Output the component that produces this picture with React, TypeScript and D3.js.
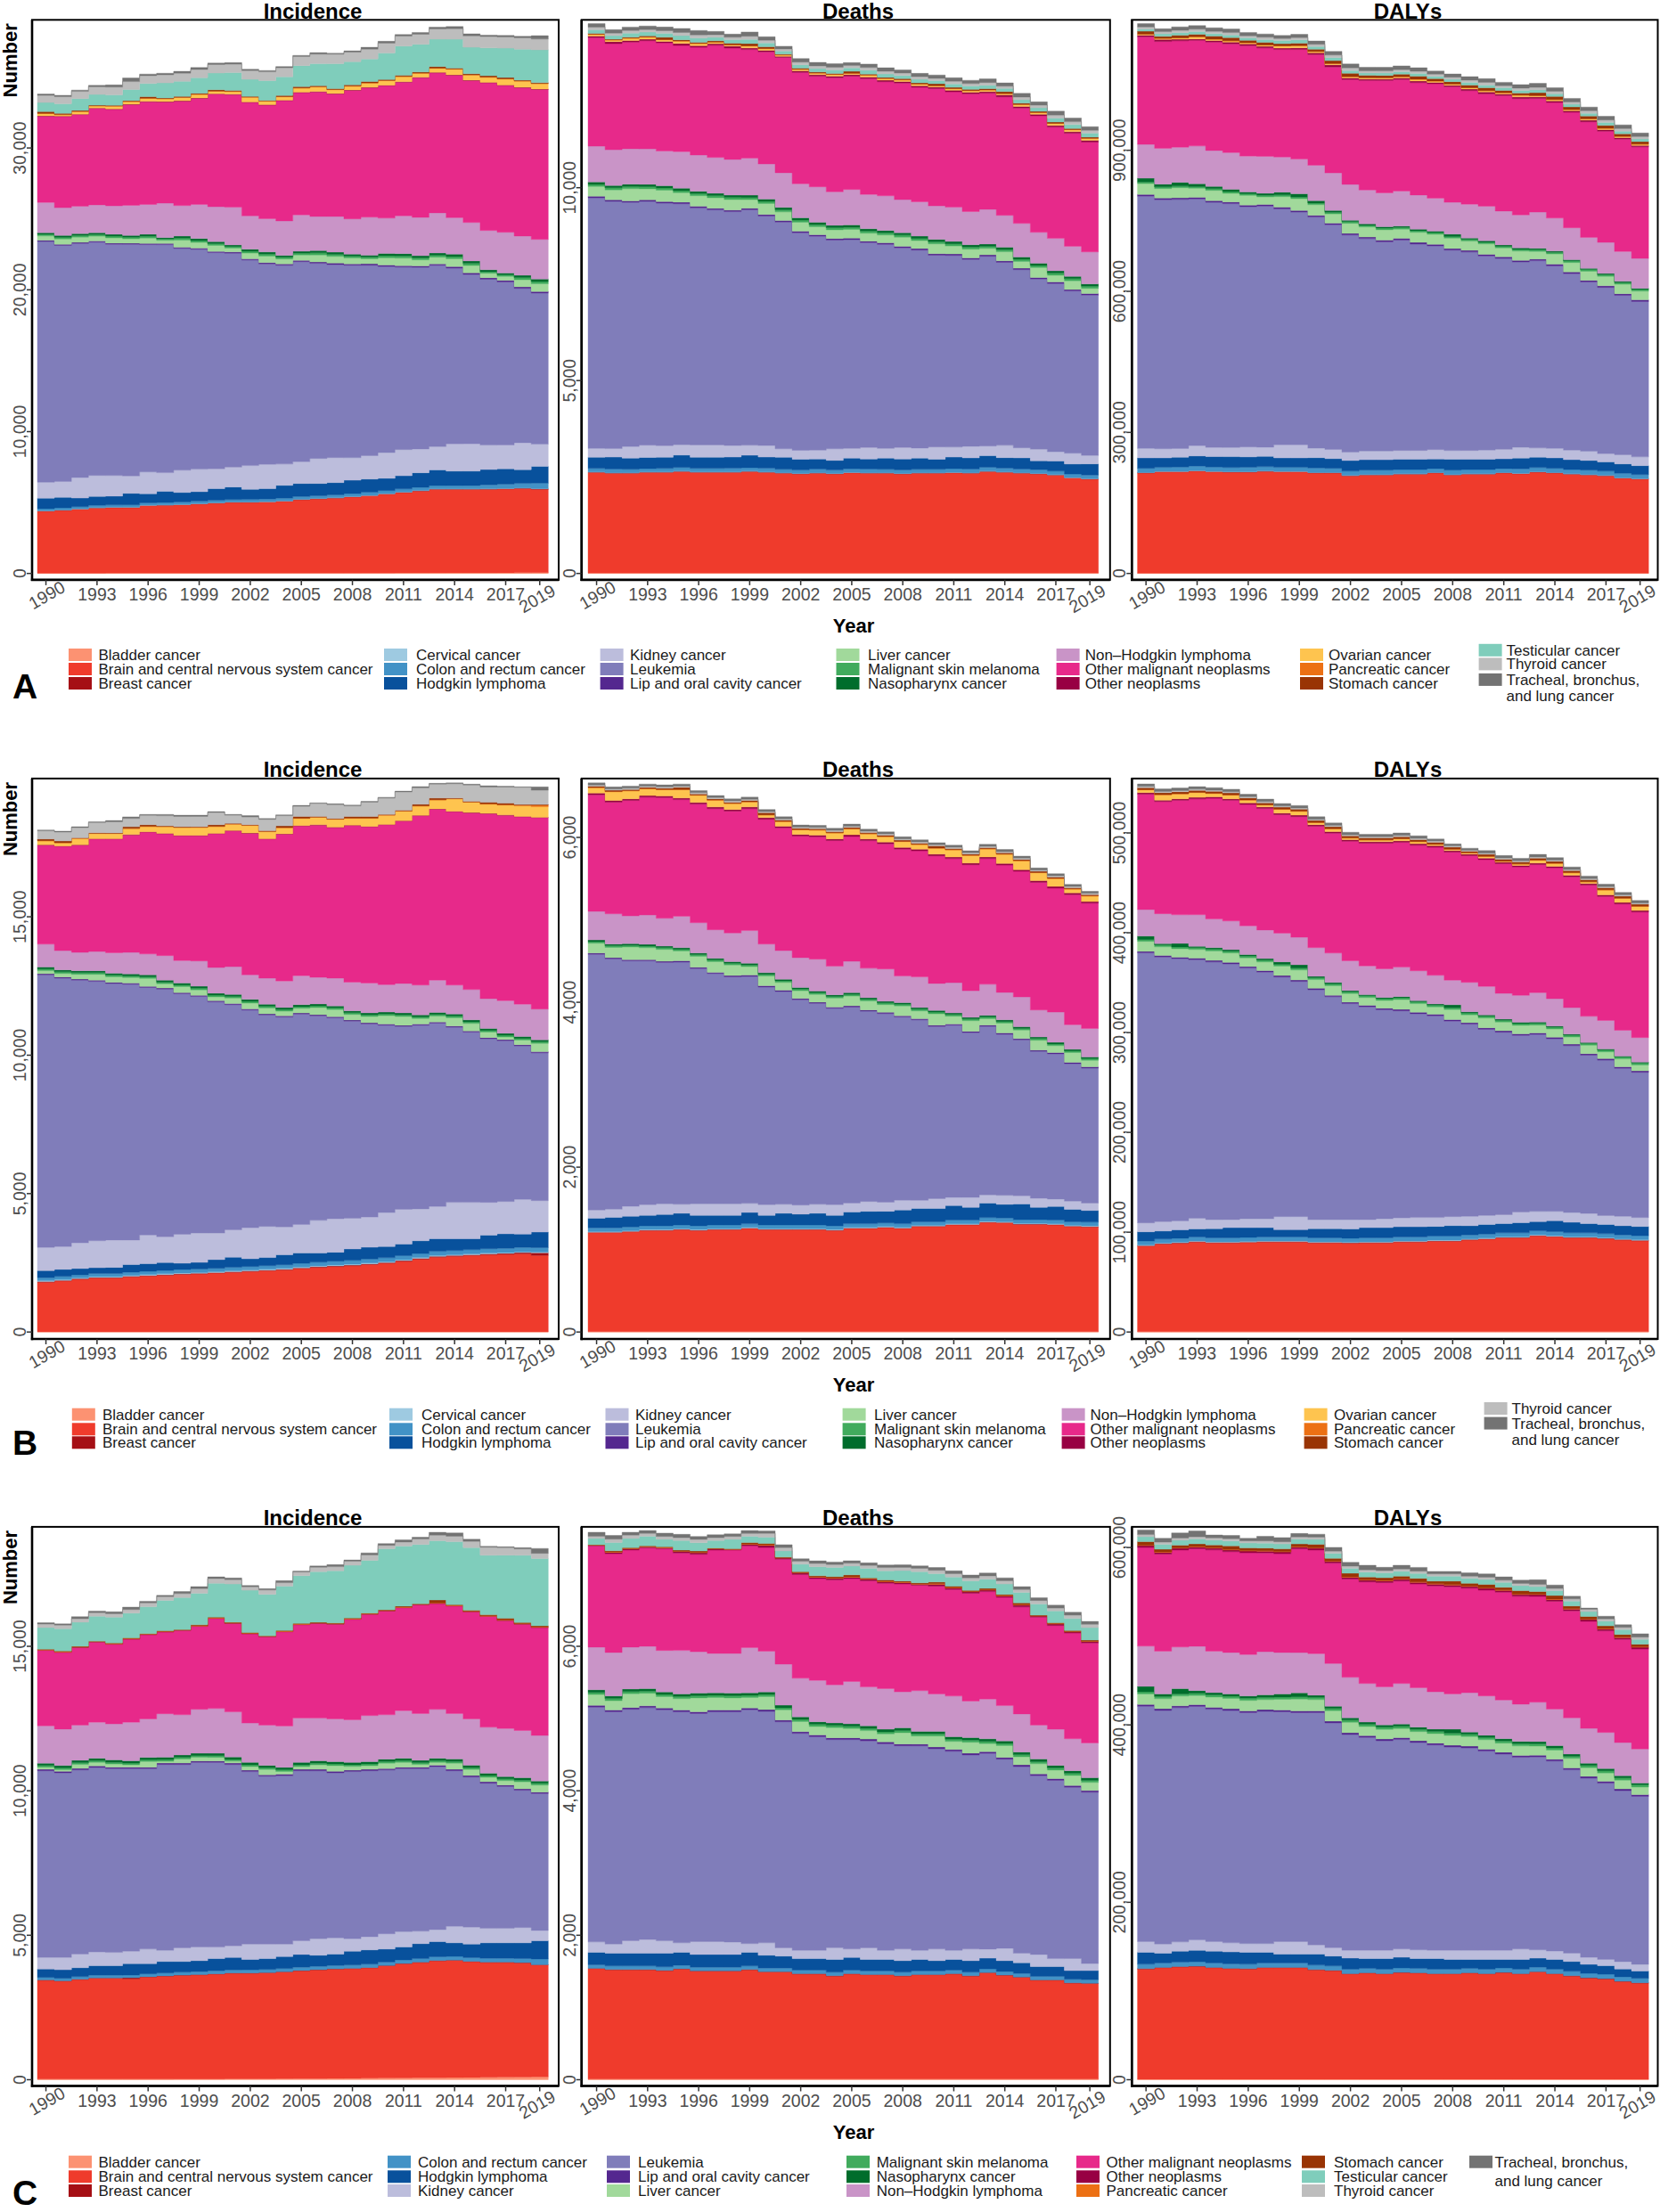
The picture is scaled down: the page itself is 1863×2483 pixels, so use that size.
import React from 'react';
import * as d3 from 'd3';

// ---------------- categories, colours ----------------
const YEARS = d3.range(1990, 2020);
const X_TICKS = [1990, 1993, 1996, 1999, 2002, 2005, 2008, 2011, 2014, 2017, 2019];

const CATEGORIES = [
  'Bladder cancer', 'Brain and central nervous system cancer', 'Breast cancer', 'Cervical cancer',
  'Colon and rectum cancer', 'Hodgkin lymphoma', 'Kidney cancer', 'Leukemia', 'Lip and oral cavity cancer',
  'Liver cancer', 'Malignant skin melanoma', 'Nasopharynx cancer', 'Non\u2013Hodgkin lymphoma',
  'Other malignant neoplasms', 'Other neoplasms', 'Ovarian cancer', 'Pancreatic cancer', 'Stomach cancer',
  'Testicular cancer', 'Thyroid cancer', 'Tracheal, bronchus, and lung cancer',
];
const COLORS = [
  '#FC9272', '#EF3B2C', '#A50F15', '#9ECAE1', '#4292C6', '#08519C', '#BCBDDC', '#807DBA', '#54278F',
  '#A1D99B', '#41AB5D', '#006D2C', '#C994C7', '#E7298A', '#980043', '#FEC44F', '#EC7014', '#993404',
  '#7FCDBB', '#BDBDBD', '#737373',
];

// ---------------- data (rows in CATEGORIES order, 1990..2019) ----------------
// A: both sexes, Incidence
const incBoth: (number[] | null)[] = [
  [20,20,20,20,22,22,22,24,24,24,25,26,26,27,28,28,30,30,32,34,36,38,40,42,44,46,48,50,52,55],
  [4370,4430,4510,4595,4620,4620,4760,4785,4815,4870,4925,4980,4980,5005,5060,5170,5225,5280,5360,5445,5555,5665,5775,5885,5885,5880,5880,5905,5930,5870],
  [15,15,15,15,15,15,15,15,15,15,20,20,20,20,20,20,20,20,20,20,25,25,25,25,25,25,30,30,35,45],
  [15,15,15,15,15,20,15,15,15,15,15,15,15,15,15,15,15,15,15,15,15,15,15,15,15,15,15,15,15,15],
  [150,150,155,155,160,160,165,165,170,170,175,175,180,180,185,190,195,200,205,210,215,220,225,230,235,240,280,300,320,380],
  [740,740,600,630,620,810,640,780,670,670,820,880,710,740,900,920,860,860,940,930,860,920,1020,1100,1010,1010,1070,1080,970,1180],
  [1120,1120,1450,1480,1450,1230,1540,1320,1570,1590,1400,1400,1680,1710,1510,1540,1760,1760,1590,1650,1820,1850,1680,1650,1930,1930,1730,1680,1900,1570],
  [16980,16640,16500,16450,16310,16330,16030,16080,15640,15500,15240,15080,14490,14130,14010,14100,13760,13620,13570,13430,13120,12870,12810,12780,12390,11940,11690,11500,10880,10660],
  [80,80,80,80,80,80,80,80,90,90,90,90,90,90,90,90,100,100,100,100,100,100,100,100,110,110,110,110,110,110],
  [310,370,370,340,370,310,380,220,490,400,420,280,400,460,360,380,490,470,410,350,510,530,420,470,540,520,310,280,500,540],
  [110,120,120,120,120,110,130,100,140,130,130,110,130,140,120,130,150,140,130,120,150,150,140,140,160,150,120,110,150,160],
  [120,130,130,130,130,120,140,100,150,140,140,110,140,150,130,130,160,160,140,130,160,170,150,160,170,170,130,120,160,170],
  [2130,1960,1930,1960,2010,2130,2100,2430,2150,2410,2460,2660,2350,2350,2430,2570,2410,2520,2490,2690,2490,2660,2710,2830,2570,2710,2770,2880,2770,2800],
  [6070,6430,6460,6800,6800,7100,7240,7130,7360,7470,7940,7940,8000,8000,8480,8620,8780,8640,9060,9120,9340,9430,9850,9870,10040,10010,10410,10350,10460,10570],
  [30,30,30,30,30,30,30,30,30,30,30,30,30,30,30,30,30,30,30,30,30,30,30,30,30,30,30,30,30,30],
  [160,90,180,140,190,180,210,190,230,250,170,180,330,250,240,290,320,260,260,300,320,360,270,290,400,360,360,420,430,380],
  [15,15,15,15,15,15,15,15,15,15,15,15,15,15,15,15,15,15,15,15,15,15,15,15,15,15,15,15,15,15],
  [130,90,60,40,50,60,110,50,60,70,90,60,50,40,80,90,60,60,90,100,60,70,80,110,60,70,100,90,60,50],
  [640,670,840,760,730,780,920,1060,1060,1090,1180,1260,1200,1400,1320,1480,1570,1760,1620,1590,1870,2070,1960,1930,2040,1870,1960,2070,2180,2320],
  [500,500,510,540,560,560,560,570,580,590,600,600,620,620,630,640,660,670,680,690,700,700,700,720,740,800,800,790,800,760],
  [100,100,90,100,150,250,110,110,130,130,100,110,100,90,90,80,110,70,90,130,130,110,130,130,150,150,100,110,110,240],
];

// A: both sexes, Deaths
const deathsBoth: (number[] | null)[] = [
  [12,12,12,12,12,12,12,12,12,12,12,12,12,12,12,12,12,12,12,12,12,12,12,12,12,12,12,12,12,12],
  [2607,2586,2586,2607,2607,2628,2607,2607,2607,2628,2607,2586,2566,2586,2566,2596,2586,2586,2566,2586,2586,2596,2586,2628,2607,2586,2566,2535,2462,2431],
  [8,8,8,8,8,8,8,8,8,8,8,8,8,8,8,8,8,8,8,8,8,8,8,8,8,8,8,8,8,8],
  [5,5,5,5,5,5,5,5,5,5,5,5,5,5,5,5,5,5,5,5,5,5,5,5,5,5,5,5,5,5],
  [90,95,90,85,90,95,90,90,95,90,95,90,90,95,90,90,95,90,95,90,90,95,95,100,100,95,100,95,90,95],
  [290,310,290,290,290,320,290,290,290,320,290,310,280,260,250,280,260,290,280,290,260,300,290,300,270,290,230,260,260,290],
  [230,220,300,320,300,270,320,320,300,260,300,220,230,230,300,250,300,250,300,260,320,260,300,250,320,260,300,240,280,220],
  [6495,6413,6330,6320,6289,6248,6145,6093,6062,6104,5949,5877,5640,5547,5413,5413,5310,5289,5176,5134,4969,4969,4846,4918,4743,4619,4413,4361,4206,4155],
  [40,40,40,40,40,40,40,40,40,40,40,40,40,40,40,40,40,40,40,40,40,40,40,40,40,40,40,40,40,40],
  [255,255,315,285,295,245,275,275,275,225,285,225,235,205,225,225,205,205,235,205,255,205,225,165,235,175,255,175,225,135],
  [55,55,55,55,55,55,55,55,55,55,55,55,55,55,55,55,55,55,55,55,55,55,55,55,55,55,55,55,55,55],
  [60,60,60,60,60,60,60,60,60,60,60,60,60,60,60,60,60,60,60,60,60,60,60,60,60,60,60,60,60,60],
  [930,925,920,920,900,950,940,930,925,960,910,900,880,920,870,920,890,900,860,890,870,890,860,900,830,870,800,840,780,830],
  [2815,2753,2763,2804,2804,2753,2794,2907,2887,2815,2907,2990,2887,2866,2959,2938,3000,2959,3021,2969,3041,2990,3052,3010,3072,2990,3021,2887,2928,2846],
  [40,50,40,40,40,50,40,40,50,40,40,30,40,40,40,40,40,40,40,40,40,40,40,40,50,40,40,40,40,45],
  [40,40,60,50,40,60,55,40,30,50,40,30,40,40,40,30,50,40,40,40,30,40,40,40,30,50,40,50,50,50],
  [5,5,5,5,5,5,5,5,5,5,5,5,5,5,5,5,5,5,5,5,5,5,5,5,5,5,5,5,5,5],
  [25,20,25,30,60,30,30,30,40,60,45,20,25,25,25,50,25,25,30,30,50,30,30,30,50,30,30,35,30,30],
  [90,90,100,100,100,110,110,90,90,110,100,80,90,90,90,90,100,90,80,90,80,90,90,90,80,90,90,100,100,100],
  [70,65,70,65,70,80,80,70,65,80,70,55,70,70,70,60,70,70,65,70,60,70,60,70,60,70,70,80,75,75],
  [90,90,90,90,95,105,115,85,80,110,90,70,90,90,90,75,90,90,80,85,85,90,85,95,85,95,85,100,95,95],
];

// A: both sexes, DALYs
const dalysBoth: (number[] | null)[] = [
  [600,600,600,600,600,600,600,600,600,600,600,600,600,600,600,600,600,600,600,600,600,600,600,600,600,600,600,600,600,600],
  [213000,215500,215500,217200,215500,214700,214700,216400,215500,215500,213000,213000,206900,208600,208600,210300,210300,213000,208600,210300,210300,213000,211300,214700,213000,210300,208600,206900,201800,200100],
  [700,700,700,700,700,700,700,700,700,700,700,700,700,700,700,700,700,700,700,700,700,700,700,700,700,700,700,700,700,700],
  [400,400,400,400,400,400,400,400,400,400,400,400,400,400,400,400,400,400,400,400,400,400,400,400,400,400,400,400,400,400],
  [9000,8500,9000,9500,9000,9000,9500,9000,8500,8500,9500,9000,9000,9500,9500,9000,9000,8500,9500,9000,9000,8500,9500,9000,9000,9000,9500,9000,9500,8500],
  [22000,20000,21000,21500,22500,23000,22000,22000,20000,20000,22000,20500,22500,22000,22000,22000,22000,20000,23000,22000,22000,20500,23000,22000,22000,21000,20500,19500,20000,19000],
  [20300,19500,18600,22000,19500,19500,21200,19500,28000,28000,20300,19500,17800,18600,18600,18600,18600,20300,18600,18600,19500,20300,22900,19500,20300,20300,19500,17800,19500,18600],
  [536500,529700,529700,524600,521200,518700,511000,512700,501700,494900,491600,478000,461900,451700,444900,447500,439000,433100,426300,422100,412700,406000,394100,398300,388200,375400,360200,353400,339000,330500],
  [3500,3500,3500,3500,3500,3500,3500,3500,3500,3500,3500,3500,3500,3500,3500,3500,3500,3500,3500,3500,3500,3500,3500,3500,3500,3500,3500,3500,3500,3500],
  [23100,20100,21400,19200,21900,18500,20400,16100,22600,25000,22700,19500,21400,21400,22200,19700,21400,21400,21900,19700,22200,18800,19700,16300,21900,20200,19300,20200,20200,18500],
  [3500,3500,3500,3500,3500,3500,3500,3500,3500,3500,3500,3500,3500,3500,3500,3500,3500,3500,3500,3500,3500,3500,3500,3500,3500,3500,3500,3500,3500,3500],
  [8000,6000,8000,6000,5000,5000,4000,4000,6000,7000,5000,4000,3000,3000,3000,3000,3000,3000,5000,3000,3000,3000,3000,3000,2500,2500,2500,2500,2500,2500],
  [72000,76300,74600,80500,76300,78000,76300,78800,74600,73700,75400,79700,76300,72000,72000,74600,72900,70300,67800,72000,73700,72000,70300,77100,70300,67800,66100,66100,63600,63600],
  [228800,227100,226300,224600,230500,231400,234800,230500,228800,233100,235600,225400,222900,233100,239000,237300,239000,243200,245800,241500,239000,245800,247500,241500,245800,245800,245800,236500,239000,237300],
  [3500,4500,3500,3000,3500,3500,3500,3500,3000,3500,3500,4500,3500,3000,3000,3000,3500,3000,3000,3500,4000,3000,3500,3500,3500,3000,3500,3500,3000,3000],
  [2000,2000,2500,4500,2500,2500,2500,2500,4500,4500,2500,2500,2500,2500,2500,2500,3500,2500,2500,2500,2500,2500,3500,2500,2500,2500,2500,2500,2500,2500],
  [300,300,300,300,300,300,300,300,300,300,300,300,300,300,300,300,300,300,300,300,300,300,300,300,300,300,300,300,300,300],
  [6000,4000,5500,5000,6500,7000,5000,5500,4500,5000,5000,6000,7000,5000,5000,5500,6500,5000,5000,5500,6000,5000,4500,6000,6500,5500,6000,6000,5500,5500],
  [4500,5500,5500,6000,5000,5500,5000,6000,6500,7000,5500,6500,6000,5000,5000,5000,5500,5000,5000,5500,6000,5500,5500,6000,5500,5500,5500,6000,5500,5500],
  [4500,4500,5000,5000,5000,5000,4500,5000,4500,5000,5000,5500,5500,4500,4500,4500,5000,4500,4500,5000,5500,4500,5000,5500,5500,5000,5500,5500,5500,5000],
  [7200,6300,7400,7600,7700,7600,7200,6900,6400,6900,6900,7800,8300,7700,7700,8000,7400,6800,6800,7400,7900,7200,7400,8400,7600,7600,7900,7900,7900,7600],
];

// B: female, Incidence
const incFemale: (number[] | null)[] = [
  [10,10,10,10,10,10,10,10,10,10,10,10,10,10,10,10,10,10,10,10,10,10,10,10,10,10,10,10,10,10],
  [1793,1838,1897,1941,1941,1985,2015,2044,2074,2089,2118,2148,2177,2207,2237,2281,2325,2355,2384,2429,2473,2547,2621,2695,2724,2754,2783,2798,2818,2759],
  [20,20,20,20,20,20,20,20,20,20,20,20,20,20,20,25,25,25,25,25,25,25,30,30,30,30,30,30,40,90],
  [30,30,30,30,30,30,30,30,30,30,30,30,30,30,30,30,30,30,30,30,30,30,30,30,30,30,30,30,30,30],
  [110,110,110,115,115,120,120,120,125,125,125,130,130,130,135,135,135,140,140,140,145,145,145,150,150,150,155,155,160,160],
  [254,254,224,205,219,273,273,288,224,239,313,367,278,293,362,372,327,322,411,426,406,421,460,455,426,396,494,524,479,562],
  [842,828,931,975,990,887,1035,931,1049,1064,961,990,1123,1123,1005,1035,1182,1212,1109,1094,1227,1256,1153,1168,1315,1315,1182,1168,1256,1138],
  [9843,9696,9489,9371,9267,9238,8942,8942,8691,8543,8351,8129,7863,7641,7582,7597,7390,7257,7124,6976,6769,6607,6636,6621,6326,6148,5912,5809,5543,5336],
  [40,40,40,40,40,40,40,40,40,40,40,40,40,40,40,40,40,40,40,40,40,40,40,40,40,40,40,40,40,40],
  [111,126,170,214,200,200,288,155,214,200,140,200,214,214,170,170,259,259,200,229,303,318,200,214,303,273,200,96,170,303],
  [60,60,60,60,60,60,60,60,60,60,60,60,60,60,60,60,60,60,60,60,60,60,60,60,60,60,60,60,60,60],
  [70,70,70,70,70,70,70,70,70,70,70,70,70,70,70,70,70,70,70,70,70,70,70,70,70,70,70,70,70,70],
  [828,695,665,695,739,783,754,887,813,916,931,1005,887,946,961,1049,961,1005,1035,1079,990,1064,1079,1168,1049,1094,1079,1182,1168,1109],
  [3577,3769,3872,4065,4109,4242,4404,4404,4508,4523,4833,4907,5114,5025,5306,5409,5498,5439,5661,5646,5779,5868,6119,6178,6267,6385,6681,6695,6769,6917],
  [10,10,10,10,10,10,10,10,10,10,10,10,10,10,10,10,10,10,10,10,10,10,10,10,10,10,10,10,10,10],
  [142,112,226,182,182,216,186,241,285,285,245,226,270,256,216,260,270,285,245,290,330,344,334,319,448,374,329,358,383,383],
  [10,10,10,10,10,10,10,10,10,10,10,10,10,10,10,10,10,10,10,10,10,10,10,10,10,10,15,15,30,60],
  [60,60,20,20,20,60,60,20,20,20,60,20,20,20,60,60,20,20,60,60,20,20,60,60,20,20,60,60,20,20],
  null,
  [296,325,370,370,399,296,340,370,370,370,443,296,281,414,370,370,473,503,384,517,591,665,591,503,517,591,547,576,621,517],
  [30,30,30,30,45,60,30,45,45,45,30,30,45,30,30,30,20,30,30,30,30,30,45,30,30,30,45,30,20,118],
];

// B: female, Deaths
const deathsFemale: (number[] | null)[] = [
  [5,5,5,5,5,5,5,5,5,5,5,5,5,5,5,5,5,5,5,5,5,5,5,5,5,5,5,5,5,5],
  [1201,1201,1211,1226,1226,1236,1226,1236,1236,1251,1236,1236,1236,1236,1226,1251,1251,1261,1251,1275,1275,1295,1295,1325,1320,1300,1300,1295,1275,1270],
  [5,5,5,5,5,5,5,5,5,5,5,5,5,5,5,5,5,5,5,5,5,5,5,5,5,5,5,5,5,5],
  [8,8,8,8,8,8,8,8,8,8,8,8,8,8,8,8,8,8,8,8,8,8,8,8,8,8,8,8,8,8],
  [45,45,45,45,45,45,45,45,45,45,45,45,45,45,45,45,45,45,45,45,45,45,45,45,45,45,45,45,45,45],
  [116,126,131,126,136,141,126,116,116,136,116,141,131,141,126,141,150,141,165,160,160,175,155,175,165,190,150,165,150,141],
  [100,100,120,130,130,110,140,140,140,110,130,110,110,110,130,110,120,110,120,100,120,100,120,100,110,100,110,90,100,90],
  [3102,3037,2978,2958,2928,2938,2854,2794,2754,2754,2640,2581,2491,2437,2382,2377,2308,2288,2223,2189,2089,2089,2000,2045,1955,1891,1782,1762,1668,1638],
  [15,15,15,15,15,15,15,15,15,15,15,15,15,15,15,15,15,15,15,15,15,15,15,15,15,15,15,15,15,15],
  [119,124,153,144,144,119,134,129,129,104,119,94,94,94,109,119,109,94,119,94,139,94,129,79,119,104,119,84,119,79],
  [20,20,20,20,20,20,20,20,20,20,20,20,20,20,20,20,20,20,20,20,20,20,20,20,20,20,20,20,20,20],
  [20,20,20,20,20,20,20,20,20,20,20,20,20,20,20,20,20,20,20,20,20,20,20,20,20,20,20,20,20,20],
  [347,367,337,357,337,382,367,347,347,397,347,347,362,387,347,382,357,392,323,372,328,367,323,377,333,362,328,367,298,347],
  [1414,1355,1400,1429,1464,1414,1439,1469,1479,1479,1514,1489,1474,1484,1524,1514,1548,1519,1539,1529,1548,1504,1529,1524,1544,1524,1548,1504,1578,1519],
  [20,20,20,20,20,20,20,20,20,20,20,20,20,20,20,20,20,20,20,20,20,20,20,20,20,20,20,20,20,20],
  [66,106,96,81,76,101,86,81,71,61,31,56,56,61,71,71,61,66,71,56,71,86,91,96,111,106,96,96,46,66],
  [3,3,3,3,3,3,3,3,3,3,3,3,3,3,3,3,3,3,3,3,3,3,3,3,3,3,3,3,3,3],
  [15,15,15,15,15,25,15,15,15,15,25,15,15,15,15,15,15,15,15,15,25,15,15,15,15,15,15,15,15,15],
  null,
  [15,15,15,15,15,15,15,15,15,15,15,15,15,15,15,15,15,15,15,15,15,15,15,15,15,15,15,15,15,15],
  [25,25,25,25,25,25,25,25,25,25,25,25,25,25,25,25,25,25,25,25,25,25,25,25,25,25,25,25,25,25],
];

// B: female, DALYs
const dalysFemale: (number[] | null)[] = [
  [300,300,300,300,300,300,300,300,300,300,300,300,300,300,300,300,300,300,300,300,300,300,300,300,300,300,300,300,300,300],
  [85800,87800,88600,89900,89000,89000,89400,89900,89900,89900,89000,89000,88600,89000,89000,89900,89900,90700,90700,91900,92700,94000,94000,96000,95200,94000,94000,93100,91900,91100],
  [500,500,500,500,500,500,500,500,500,500,500,500,500,500,500,500,500,500,500,500,500,500,500,500,500,500,500,500,500,500],
  [600,600,600,600,600,600,600,600,600,600,600,600,600,600,600,600,600,600,600,600,600,600,600,600,600,600,600,600,600,600],
  [4000,4000,4000,4000,4000,4000,4000,4000,4000,4000,4000,4000,4000,4000,4000,4000,4000,4000,4000,4000,4000,4000,4000,4000,4000,4000,4000,4000,4000,4000],
  [9200,8000,8400,8000,9200,10100,9700,9200,7200,7200,9200,9200,9200,10100,10100,10100,10100,9700,10500,9200,9700,9200,10100,9200,10900,10500,9200,9200,9200,9200],
  [9000,9400,9000,10700,9000,8200,9000,9000,13100,13100,9000,9000,9400,8200,9000,9000,9400,9000,9000,9400,9000,9000,10700,10200,9400,9800,10200,9000,9400,9000],
  [270500,265100,262700,259000,258200,256100,251200,247100,240100,235600,230300,223300,216400,213100,209400,207400,204100,202000,195900,192600,186500,182800,177000,177400,172900,167200,158600,155700,148300,145500],
  [1500,1500,1500,1500,1500,1500,1500,1500,1500,1500,1500,1500,1500,1500,1500,1500,1500,1500,1500,1500,1500,1500,1500,1500,1500,1500,1500,1500,1500,1500],
  [10000,8700,8400,8700,9500,9500,8700,8700,9400,10000,8700,9500,8600,7800,7800,9800,8600,7400,10100,7800,9800,8600,8600,7800,8400,7200,8400,6800,8000,5900],
  [1800,1800,1800,1800,1800,1800,1800,1800,1800,1800,1800,1800,1800,1800,1800,1800,1800,1800,1800,1800,1800,1800,1800,1800,1800,1800,1800,1800,1800,1800],
  [3500,1500,3500,1500,1500,1500,1500,1500,2500,3500,1500,1500,1200,1200,1200,1200,1200,1200,3000,1200,1200,1200,1200,1200,1000,1000,1000,1000,1000,1000],
  [26600,29900,28700,31600,28700,28700,28700,28700,28700,27500,28700,29500,29900,28700,28700,29500,29900,28700,24600,29500,28700,25800,27000,29500,27500,26600,26200,28700,25800,24600],
  [115600,112300,114700,116000,120900,120900,121700,121700,118800,120900,121700,120100,119700,122900,125800,125000,125800,128300,128300,127000,127000,129900,128700,128300,131100,131100,131500,124200,126600,125800],
  [1500,1500,1500,1500,1500,1500,1500,1500,1500,1500,1500,1500,1500,1500,1500,1500,1500,1500,1500,1500,1500,1500,1500,1500,1500,1500,1500,1500,1500,1500],
  [2800,5300,4900,4900,3300,3700,2800,2000,3700,3700,2000,2800,1600,1600,1600,2000,2000,1300,1300,1200,1600,800,1200,2800,2800,2400,1600,4900,4100,4100],
  [200,200,200,200,200,200,200,200,200,200,200,200,200,200,200,200,200,200,200,200,200,200,200,200,200,200,200,200,200,200],
  [2000,2000,2000,2000,2000,2000,2000,2000,2000,2000,2000,2000,2000,2000,2000,2000,2000,2000,2000,1500,2000,2000,2000,2000,2000,2000,2000,2000,2000,2000],
  null,
  [1200,1200,1200,1200,1200,1200,1200,1200,1200,1200,1200,1200,1200,1200,1200,1200,1200,1200,1200,1000,1200,1200,1200,1200,1200,1200,1200,1200,1200,1200],
  [2500,2500,2500,2500,2500,2500,2500,2500,2500,2500,2500,2500,2500,2500,2500,2500,2500,2000,2000,2000,2500,2500,2500,2500,2500,2500,2500,2500,2500,2500],
];

// C: male, Incidence
const incMale: (number[] | null)[] = [
  [20,20,20,20,20,20,20,20,25,25,25,30,30,30,35,40,40,45,50,55,60,65,70,70,75,80,85,90,95,100],
  [3425,3396,3454,3497,3497,3468,3540,3569,3592,3607,3635,3659,3659,3673,3697,3735,3764,3788,3797,3821,3887,3954,3992,4050,4059,4011,3977,3972,3953,3876],
  [5,5,5,5,5,40,5,5,5,5,5,5,5,5,5,5,5,5,5,5,5,5,5,5,5,5,5,5,5,5],
  null,
  [90,90,90,95,95,95,100,100,100,105,105,105,110,110,110,115,115,115,120,120,120,125,125,130,130,130,135,135,140,200],
  [293,293,307,331,331,396,354,397,369,378,421,435,359,373,416,440,382,397,478,492,449,444,516,525,468,468,535,535,544,628],
  [402,431,474,474,459,431,502,388,474,474,402,402,531,502,431,474,574,560,431,459,531,531,431,416,574,589,502,502,531,359],
  [6459,6388,6373,6388,6359,6316,6244,6431,6344,6388,6388,6273,5971,5813,5828,5885,5813,5713,5785,5742,5670,5641,5627,5641,5383,5196,5024,4909,4751,4737],
  [50,50,50,50,50,50,50,50,50,50,50,50,50,50,50,50,50,50,50,50,50,50,50,50,50,50,50,50,50,50],
  [70,60,140,126,111,83,198,60,140,126,126,68,126,183,97,97,154,198,126,126,183,169,97,97,212,212,154,154,241,241],
  [60,60,60,60,60,60,60,60,60,60,60,60,60,60,60,60,60,60,60,60,60,60,60,60,60,60,60,60,60,60],
  [80,80,80,80,80,80,80,80,80,80,80,80,80,80,80,80,80,80,80,80,80,80,80,80,80,80,80,80,80,80],
  [1292,1263,1220,1249,1249,1335,1335,1507,1392,1522,1550,1565,1364,1392,1435,1536,1478,1478,1478,1593,1536,1651,1622,1694,1579,1608,1593,1665,1636,1579],
  [2612,2655,2684,2770,2756,2871,2914,2828,2914,2871,3115,3057,3086,3057,3258,3230,3273,3273,3474,3502,3589,3560,3761,3660,3718,3703,3833,3732,3675,3732],
  [10,10,10,10,10,10,10,10,10,10,10,10,10,10,10,10,10,10,10,10,10,10,10,10,10,10,10,10,10,10],
  null,
  [15,15,15,15,15,15,15,15,15,15,15,15,15,15,15,15,15,15,15,15,15,15,15,15,15,15,15,15,15,15],
  [20,20,20,10,20,20,10,20,10,30,20,20,20,10,20,20,20,20,20,20,20,30,10,100,20,30,40,60,40,40],
  [746,775,833,861,890,861,933,1048,1105,1091,1177,1321,1464,1435,1536,1651,1751,1809,1823,1823,2110,2081,2053,2053,2182,2167,2053,2182,2325,2325],
  [120,120,120,120,120,120,130,130,140,160,160,150,120,150,120,130,150,140,140,190,120,140,190,190,190,220,280,260,220,180],
  [45,45,70,60,70,85,60,45,70,70,60,60,45,45,70,30,45,70,45,70,60,70,60,100,115,70,30,30,45,170],
];

// C: male, Deaths
const deathsMale: (number[] | null)[] = [
  [8,8,8,8,8,8,8,8,8,8,8,8,8,8,8,8,8,8,8,8,8,8,8,8,8,8,8,8,8,8],
  [1531,1514,1514,1514,1502,1525,1496,1496,1496,1514,1485,1485,1456,1456,1428,1456,1445,1445,1428,1445,1445,1456,1428,1473,1439,1410,1370,1370,1330,1324],
  [3,3,3,3,3,3,3,3,3,3,3,3,3,3,3,3,3,3,3,3,3,3,3,3,3,3,3,3,3,3],
  null,
  [50,50,50,50,50,50,50,50,50,50,50,50,50,50,50,50,50,50,50,50,50,50,50,50,50,50,50,50,50,50],
  [171,177,177,177,188,177,177,177,177,188,177,165,159,159,177,177,159,159,159,159,142,148,159,148,148,148,136,136,119,125],
  [144,126,172,189,172,132,178,178,172,121,172,115,115,115,161,115,161,126,161,126,161,126,161,126,172,132,167,109,167,98],
  [3250,3216,3204,3210,3198,3198,3158,3181,3187,3238,3204,3129,3003,2957,2882,2900,2865,2860,2814,2831,2773,2756,2687,2710,2618,2584,2475,2469,2371,2371],
  [25,25,25,25,25,25,25,25,25,25,25,25,25,25,25,25,25,25,25,25,25,25,25,25,25,25,25,25,25,25],
  [151,128,191,174,157,157,191,174,168,145,180,140,140,117,140,128,117,111,157,111,151,111,151,111,163,111,140,117,140,111],
  [30,30,30,30,30,30,30,30,30,30,30,30,30,30,30,30,30,30,30,30,30,30,30,30,30,30,30,30,30,30],
  [35,35,35,35,35,35,35,35,35,35,35,35,35,35,35,35,35,35,35,35,35,35,35,35,35,35,35,35,35,35],
  [591,603,580,586,574,603,574,545,551,626,563,568,534,574,528,586,540,563,500,563,517,563,505,551,488,528,471,500,442,482],
  [1401,1367,1344,1361,1407,1349,1349,1430,1430,1407,1436,1453,1436,1407,1453,1424,1470,1458,1493,1458,1493,1476,1493,1487,1499,1481,1493,1436,1464,1384],
  [10,20,15,15,15,20,20,15,10,20,30,15,20,20,20,20,20,20,20,15,25,20,20,20,20,25,15,20,15,20],
  null,
  [2,5,5,5,5,5,6,5,2,6,7,4,5,5,6,6,5,6,5,5,7,6,5,6,5,7,4,5,5,5],
  [5,15,14,9,9,15,20,9,5,20,20,10,15,15,20,26,15,20,15,14,25,20,15,20,15,25,10,15,14,15],
  [86,115,126,132,103,132,115,103,132,86,86,86,103,126,126,121,132,126,144,155,115,126,132,126,144,144,155,161,167,172],
  [29,46,46,40,40,40,46,40,40,40,52,46,40,46,40,40,40,46,46,46,46,46,40,46,46,40,46,40,46,46],
  [57,52,40,40,46,46,40,40,35,40,35,40,35,35,35,35,35,35,35,35,40,40,40,40,40,40,40,40,40,40],
];

// C: male, DALYs
const dalysMale: (number[] | null)[] = [
  [500,500,500,500,500,500,500,500,500,500,500,500,500,500,500,500,500,500,500,500,500,500,500,500,500,500,500,500,500,500],
  [124400,125800,126700,127200,125800,124800,124400,125800,125800,125800,123400,122500,118800,119700,118800,120200,119700,118800,118800,119700,118800,120200,118800,121100,118800,116400,114100,113100,110300,108500],
  [300,300,300,300,300,300,300,300,300,300,300,300,300,300,300,300,300,300,300,300,300,300,300,300,300,300,300,300,300,300],
  null,
  [5000,5000,5000,5000,5000,5000,5000,5000,5000,5000,5000,5000,5000,5000,5000,5000,5000,5000,5000,5000,5000,5000,5000,5000,5000,5000,5000,5000,5000,5000],
  [13400,11100,12500,12900,13400,13400,13400,12000,10100,10100,12500,11100,12500,11100,12000,12000,11100,12000,11100,10100,11100,9700,11100,10100,11100,11100,10100,9700,8700,8300],
  [12200,10300,10300,11700,10800,10300,9800,9800,14000,14000,10300,9400,8900,9400,9400,9400,9800,9400,10300,10300,10300,10300,11700,9400,9400,9400,8000,7000,8400,7500],
  [265200,263300,264200,263300,261900,261900,260500,261900,259100,258100,261900,253500,243200,239900,236200,236200,233800,231500,229100,228200,224500,221200,216100,217500,214200,206700,202000,198800,192700,189400],
  [2000,2000,2000,2000,2000,2000,2000,2000,2000,2000,2000,2000,2000,2000,2000,2000,2000,2000,2000,2000,2000,2000,2000,2000,2000,2000,2000,2000,2000,2000],
  [11900,11200,11000,10300,11700,11700,11700,11200,12100,13400,12600,11700,11700,10300,10800,10300,10300,10800,11100,10800,10800,10300,10800,10300,10300,10800,9800,9400,9800,8500],
  [2500,2500,2500,2500,2500,2500,2500,2500,2500,2500,2500,2500,2500,2500,2500,2500,2500,2500,2500,2500,2500,2500,2500,2500,2500,2500,2500,2500,2500,2500],
  [6000,3000,6000,3000,2500,2500,2500,3000,3500,4500,2500,2500,2500,2500,2500,2500,2500,2500,4500,2500,2500,2500,2500,2500,2500,2500,2500,2500,2500,2000],
  [45400,48200,46800,50000,46800,46800,46800,48600,46800,45400,46800,48200,45800,43500,43000,45800,44400,42100,39800,44400,44400,43500,42100,44400,41200,40700,39300,40700,37400,38300],
  [111300,109400,109400,109900,114100,113600,114600,111300,111300,116900,116900,113200,110800,114600,117400,115500,116900,119300,120700,117800,119300,121600,121600,119300,121600,120700,120700,114600,116400,112700],
  [2000,2000,2000,2000,2000,2000,2000,2000,2000,2000,2000,2000,2000,2000,2000,2000,2000,2000,2000,2000,2000,2000,2000,2000,2000,2000,2000,2000,2000,2000],
  null,
  [500,500,500,500,500,500,500,500,500,500,500,500,500,500,500,500,500,500,500,500,500,500,500,500,500,500,500,500,500,500],
  [4000,3000,3000,3000,3000,4000,3000,3000,3000,3000,4000,3000,4000,3000,3000,3000,4000,3000,4000,3000,4000,3000,4000,3000,4000,3000,3000,3000,3000,3000],
  [5500,5500,5500,5500,5500,5500,5500,5500,5500,5500,5500,5500,5500,5500,5500,5500,5500,5500,5500,5500,5500,5500,5500,5500,5500,5500,5500,5500,5500,5500],
  [2500,2500,2500,2500,2500,2500,2500,2500,2500,2500,2500,2500,2500,2500,2500,2500,2500,2500,2500,2500,2500,2500,2500,2500,2500,2500,2500,2500,2500,2500],
  [5200,4300,5700,6600,3300,3800,2900,5200,4700,3800,3300,4300,4300,5200,3800,4300,4300,2900,2900,3800,3800,3800,3800,5200,3800,2900,1500,2900,2900,3800],
];

// y-axis tick labels per panel
const TICKS_INC_A = [0, 10000, 20000, 30000];
const TICKS_DEATH_A = [0, 5000, 10000];
const TICKS_DALY_A = [0, 300000, 600000, 900000];
const TICKS_INC_BC = [0, 5000, 10000, 15000];
const TICKS_DEATH_BC = [0, 2000, 4000, 6000];
const TICKS_DALY_B = [0, 100000, 200000, 300000, 400000, 500000];
const TICKS_DALY_C = [0, 200000, 400000, 600000];

// ---------------- layout ----------------
const W = 1863;
const H = 2483;
const FONT = "'Liberation Sans', Arial, Helvetica, sans-serif";

const COLS = [
  { frameL: 36, frameR: 627, x0: 42, x1: 615.3, titleX: 351 },
  { frameL: 652.7, frameR: 1245.8, x0: 660, x1: 1232.7, titleX: 963 },
  { frameL: 1270.3, frameR: 1860.5, x0: 1276.6, x1: 1850.2, titleX: 1580 },
];
const ROWS = [
  { top: 22.3, bottom: 650.9, zero: 643.7 },
  { top: 873.9, bottom: 1503, zero: 1495.2 },
  { top: 1713.9, bottom: 2341.5, zero: 2334.5 },
];

const PANELS = [
  { row: 0, col: 0, title: 'Incidence', data: incBoth, ticks: TICKS_INC_A, refV: 30000, refY: 166.1 },
  { row: 0, col: 1, title: 'Deaths', data: deathsBoth, ticks: TICKS_DEATH_A, refV: 10000, refY: 210.7 },
  { row: 0, col: 2, title: 'DALYs', data: dalysBoth, ticks: TICKS_DALY_A, refV: 900000, refY: 168.7 },
  { row: 1, col: 0, title: 'Incidence', data: incFemale, ticks: TICKS_INC_BC, refV: 15000, refY: 1029.1 },
  { row: 1, col: 1, title: 'Deaths', data: deathsFemale, ticks: TICKS_DEATH_BC, refV: 6000, refY: 940 },
  { row: 1, col: 2, title: 'DALYs', data: dalysFemale, ticks: TICKS_DALY_B, refV: 500000, refY: 935 },
  { row: 2, col: 0, title: 'Incidence', data: incMale, ticks: TICKS_INC_BC, refV: 15000, refY: 1848 },
  { row: 2, col: 1, title: 'Deaths', data: deathsMale, ticks: TICKS_DEATH_BC, refV: 6000, refY: 1848 },
  { row: 2, col: 2, title: 'DALYs', data: dalysMale, ticks: TICKS_DALY_C, refV: 600000, refY: 1737.1 },
];

// legend layouts: columns of category indices
const LEGENDS = [
  {
    letter: 'A', letterY: 784, rows: [735, 751, 767], lastRows: [729.8, 745.4, 762.9],
    cols: [[0, 1, 2], [3, 4, 5], [6, 7, 8], [9, 10, 11], [12, 13, 14], [15, 16, 17], [18, 19, 20]],
    x: [[77, 110.5], [431, 467], [673.6, 707], [938.5, 974], [1185.6, 1217.7], [1459, 1491], [1659.6, 1690.5]],
  },
  {
    letter: 'B', letterY: 1633, rows: [1587.7, 1604.3, 1619.3], lastRows: [1581, 1597.6],
    cols: [[0, 1, 2], [3, 4, 5], [6, 7, 8], [9, 10, 11], [12, 13, 14], [15, 16, 17], [19, 20]],
    x: [[80.8, 115], [437, 473], [679.5, 713], [945.6, 981], [1191.6, 1223.6], [1463.6, 1497], [1665.6, 1696.5]],
  },
  {
    letter: 'C', letterY: 2475, rows: [2426.7, 2443.3, 2459], lastRows: [2426.7],
    cols: [[0, 1, 2], [4, 5, 6], [7, 8, 9], [10, 11, 12], [13, 14, 16], [17, 18, 19], [20]],
    x: [[77, 110.5], [435, 469], [681, 716], [950, 983.7], [1208, 1241.5], [1461, 1497], [1649, 1677.5]],
  },
];

const fmt = d3.format(',');

function Panel({ p }: { p: (typeof PANELS)[number] }) {
  const c = COLS[p.col];
  const r = ROWS[p.row];
  const xs = d3.scaleLinear().domain([1989.5, 2019.5]).range([c.x0, c.x1]);
  const ys = d3.scaleLinear().domain([0, p.refV]).range([r.zero, p.refY]);
  const keys = p.data.map((d, i) => (d ? i : -1)).filter((i) => i >= 0);
  const stack = d3
    .stack<number, number>()
    .keys(keys)
    .value((i, k) => (p.data[k] as number[])[i]);
  const series = stack(YEARS.map((_, i) => i));
  const area = d3
    .area<{ x: number; y0: number; y1: number }>()
    .x((d) => xs(d.x))
    .y0((d) => ys(d.y0))
    .y1((d) => ys(d.y1))
    .curve(d3.curveStepAfter);

  const tickColor = '#333';
  const labelColor = '#4D4D4D';
  return (
    <g>
      {series.map((s) => {
        const pts = s.map((v, i) => ({ x: YEARS[i] - 0.5, y0: v[0], y1: v[1] }));
        const last = s[s.length - 1];
        pts.push({ x: 2019.5, y0: last[0], y1: last[1] });
        const col = COLORS[s.key as number];
        return <path key={s.key} d={area(pts) || ''} fill={col} stroke={col} strokeWidth={0.4} />;
      })}
      <rect x={c.frameL} y={r.top} width={c.frameR - c.frameL} height={r.bottom - r.top} fill="none" stroke="#000" strokeWidth={2} />
      <line x1={c.frameL} x2={c.frameL} y1={r.top} y2={r.bottom + 1.2} stroke="#000" strokeWidth={2.6} />
      <line x1={c.frameL - 1.2} x2={c.frameR} y1={r.bottom} y2={r.bottom} stroke="#000" strokeWidth={2.6} />
      {p.ticks.map((t) => (
        <g key={t}>
          <line x1={c.frameL - 6} x2={c.frameL} y1={ys(t)} y2={ys(t)} stroke={tickColor} strokeWidth={1.5} />
          <text
            transform={`translate(${c.frameL - 14},${ys(t)}) rotate(-90)`}
            textAnchor="middle"
            dy="0.35em"
            fontSize={19.5}
            fill={labelColor}
            fontFamily={FONT}
          >
            {fmt(t)}
          </text>
        </g>
      ))}
      {X_TICKS.map((yr) => {
        const x = xs(yr);
        const rotated = yr === 1990 || yr === 2019;
        const cx = yr === 1990 ? x + 1 : yr === 2019 ? x - 3 : x;
        const cy = yr === 1990 ? r.bottom + 17 : yr === 2019 ? r.bottom + 21 : r.bottom + 16.5;
        return (
          <g key={yr}>
            <line x1={x} x2={x} y1={r.bottom} y2={r.bottom + 6} stroke={tickColor} strokeWidth={1.5} />
            <text
              transform={`translate(${cx},${cy})${rotated ? ' rotate(-30)' : ''}`}
              textAnchor="middle"
              dy="0.35em"
              fontSize={19.5}
              fill={labelColor}
              fontFamily={FONT}
            >
              {yr}
            </text>
          </g>
        );
      })}
      <text x={c.titleX} y={r.top - 1.5} textAnchor="middle" fontSize={24} fontWeight="bold" fontFamily={FONT} fill="#000">
        {p.title}
      </text>
      {p.col === 0 && (
        <text
          transform={`translate(11.5,${r.top + 4}) rotate(-90)`}
          textAnchor="end"
          dy="0.35em"
          fontSize={22}
          fontWeight="bold"
          fontFamily={FONT}
          fill="#000"
        >
          Number
        </text>
      )}
      {p.col === 1 && (
        <text x={958} y={r.bottom + 59} textAnchor="middle" fontSize={22} fontWeight="bold" fontFamily={FONT} fill="#000">
          Year
        </text>
      )}
    </g>
  );
}

function Legend({ L }: { L: (typeof LEGENDS)[number] }) {
  const items: React.ReactNode[] = [];
  L.cols.forEach((col, ci) => {
    const isLast = ci === L.cols.length - 1;
    const rowsY = isLast ? L.lastRows : L.rows;
    col.forEach((cat, ri) => {
      const y = rowsY[ri];
      const [sx, tx] = L.x[ci];
      const name = CATEGORIES[cat];
      const twoLine = cat === 20;
      items.push(
        <g key={`${ci}-${ri}`}>
          <rect x={sx} y={y - 7} width={26} height={14} fill={COLORS[cat]} />
          {twoLine ? (
            <text x={tx} y={y} dy="0.35em" fontSize={17} fontFamily={FONT} fill="#1a1a1a">
              <tspan x={tx}>Tracheal, bronchus,</tspan>
              <tspan x={tx} dy={L.letter === 'C' ? 21.5 : 18}>and lung cancer</tspan>
            </text>
          ) : (
            <text x={tx} y={y} dy="0.35em" fontSize={17} fontFamily={FONT} fill="#1a1a1a">
              {name}
            </text>
          )}
        </g>
      );
    });
  });
  return (
    <g>
      <text x={14} y={L.letterY} fontSize={39} fontWeight="bold" fontFamily={FONT} fill="#000">
        {L.letter}
      </text>
      {items}
    </g>
  );
}

export default function App() {
  return (
    <svg
      width={W}
      height={H}
      viewBox={`0 0 ${W} ${H}`}
      style={{ position: 'absolute', left: 0, top: 0, display: 'block', background: '#fff' }}
    >
      <rect x={0} y={0} width={W} height={H} fill="#fff" />
      {PANELS.map((p, i) => (
        <Panel key={i} p={p} />
      ))}
      {LEGENDS.map((L) => (
        <Legend key={L.letter} L={L} />
      ))}
    </svg>
  );
}
